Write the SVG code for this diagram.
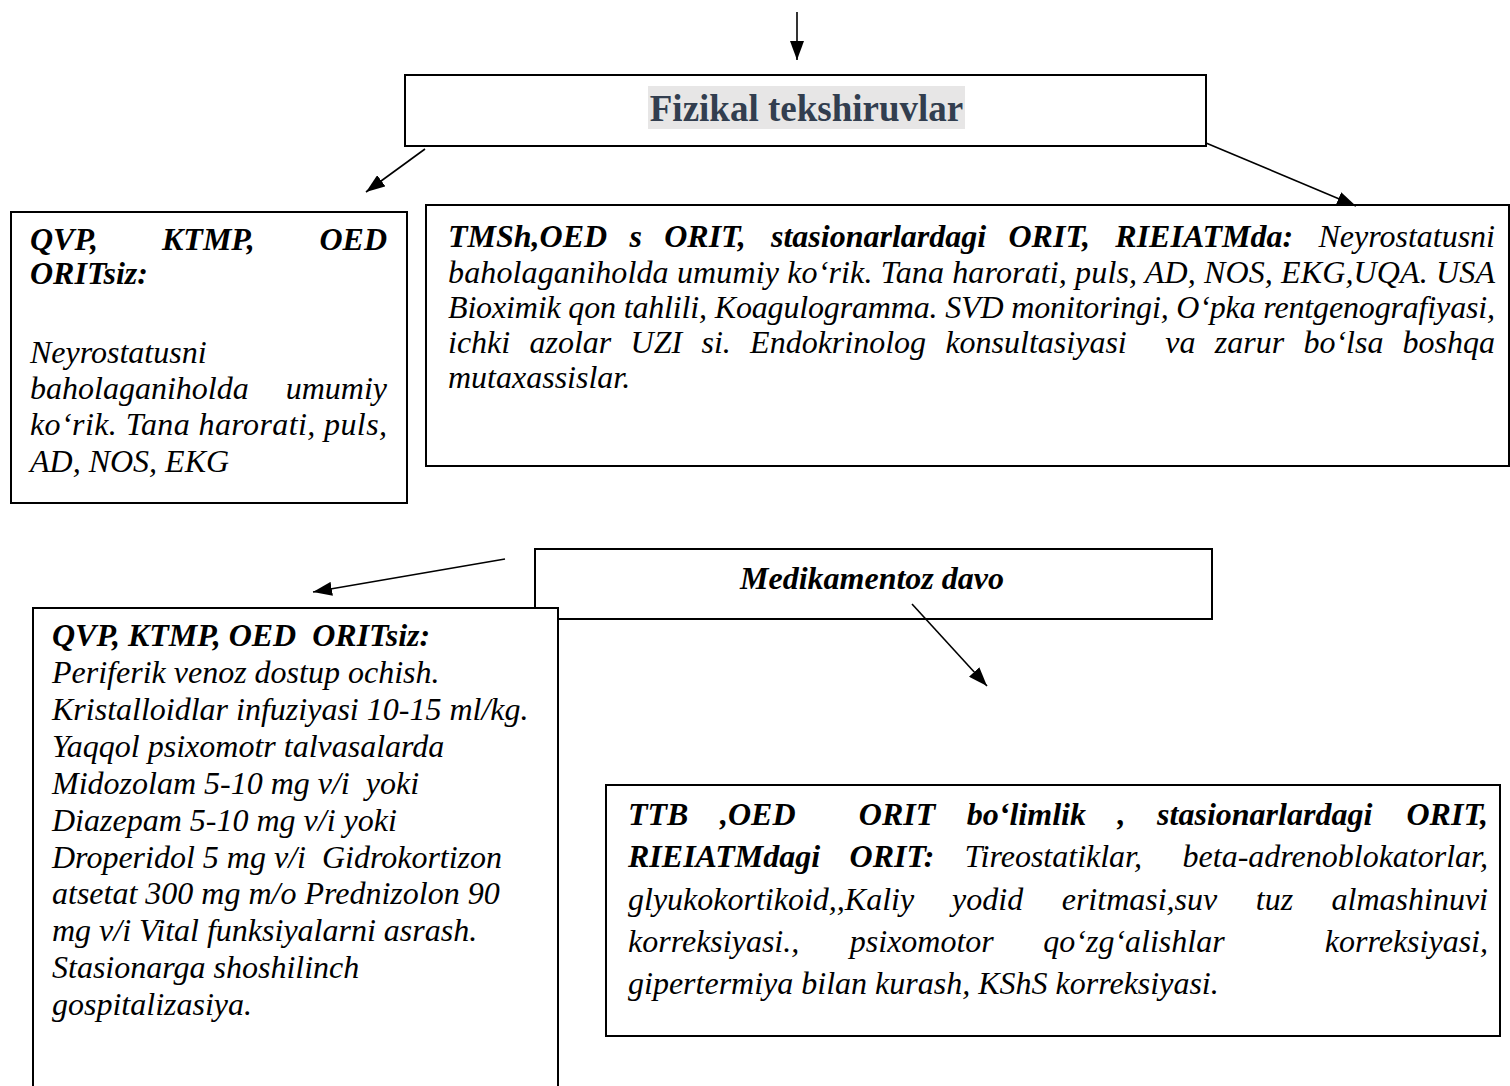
<svg xmlns="http://www.w3.org/2000/svg" width="1510" height="1086" viewBox="0 0 1510 1086">
<style>
.box{fill:#fff;stroke:#000;stroke-width:2}
.t{font-family:"Liberation Serif","Times New Roman",serif;font-size:32px;font-style:italic;fill:#000}
.b{font-weight:bold}
.ttl{font-family:"Liberation Serif","Times New Roman",serif;font-size:37px;font-weight:bold;fill:#323E4F}
.c{fill:none;stroke:#000;stroke-width:1.6}
</style>
<defs>
<marker id="ah" markerUnits="userSpaceOnUse" markerWidth="20" markerHeight="14" refX="19" refY="7" orient="auto">
<path d="M0,0 L19,7 L0,14 z" fill="#000"/>
</marker>
</defs>
<rect width="1510" height="1086" fill="#fff"/>

<g id="node-fizikal">
<rect class="box" x="405" y="75" width="801" height="71" stroke-width="2.5"/>
<rect x="648" y="86" width="317" height="43" fill="#E7E6E6"/>
<text class="ttl" x="806.5" y="121" text-anchor="middle">Fizikal tekshiruvlar</text>
</g>

<g id="node-qvp-fiz">
<rect class="box" x="11" y="212" width="396" height="291"/>
<text class="t b" y="250"><tspan x="30">QVP,</tspan><tspan x="162">KTMP,</tspan></text>
<text class="t b" x="387" y="250" text-anchor="end">OED</text>
<text class="t b" x="30" y="284">ORITsiz:</text>
<text class="t" x="30" y="363">Neyrostatusni</text>
<text class="t" x="30" y="399">baholaganiholda</text>
<text class="t" x="387" y="399" text-anchor="end">umumiy</text>
<text class="t" x="30" y="435" textLength="357" lengthAdjust="spacing">ko‘rik. Tana harorati, puls,</text>
<text class="t" x="30" y="472">AD, NOS, EKG</text>
</g>

<g id="node-tmsh-fiz">
<rect class="box" x="426" y="205" width="1083" height="261"/>
<text class="t b" y="247"><tspan x="448">TMSh,OED</tspan><tspan x="629.5">s</tspan><tspan x="664.2">ORIT,</tspan><tspan x="771">stasionarlardagi</tspan><tspan x="1008.5">ORIT,</tspan><tspan x="1115.3">RIEIATMda:</tspan></text>
<text class="t" x="1495" y="247" text-anchor="end">Neyrostatusni</text>
<text class="t" x="448" y="282.5" textLength="1047" lengthAdjust="spacing">baholaganiholda umumiy ko‘rik. Tana harorati, puls, AD, NOS, EKG,UQA. USA</text>
<text class="t" x="448" y="318" textLength="1047" lengthAdjust="spacing">Bioximik qon tahlili, Koagulogramma. SVD monitoringi, O‘pka rentgenografiyasi,</text>
<text class="t" y="353"><tspan x="448">ichki</tspan><tspan x="529.5">azolar</tspan><tspan x="630.6">UZI</tspan><tspan x="701.5">si.</tspan><tspan x="750.1">Endokrinolog</tspan><tspan x="945.4">konsultasiyasi</tspan><tspan x="1165.3">va</tspan><tspan x="1214.8">zarur</tspan><tspan x="1303.4">bo‘lsa</tspan></text>
<text class="t" x="1495" y="353" text-anchor="end">boshqa</text>
<text class="t" x="448" y="388">mutaxassislar.</text>
</g>

<g id="node-medikamentoz">
<rect class="box" x="535" y="549" width="677" height="70"/>
<text class="t b" x="872" y="589" text-anchor="middle">Medikamentoz davo</text>
</g>

<g id="node-qvp-davo">
<rect class="box" x="33" y="608" width="525" height="500"/>
<text class="t b" x="52" y="646">QVP, KTMP, OED&#160; ORITsiz:</text>
<text class="t" x="52" y="683">Periferik venoz dostup ochish.</text>
<text class="t" x="52" y="720">Kristalloidlar infuziyasi 10-15 ml/kg.</text>
<text class="t" x="52" y="757">Yaqqol psixomotr talvasalarda</text>
<text class="t" x="52" y="794">Midozolam 5-10 mg v/i&#160; yoki</text>
<text class="t" x="52" y="831">Diazepam 5-10 mg v/i yoki</text>
<text class="t" x="52" y="868">Droperidol 5 mg v/i&#160; Gidrokortizon</text>
<text class="t" x="52" y="904">atsetat 300 mg m/o Prednizolon 90</text>
<text class="t" x="52" y="941">mg v/i Vital funksiyalarni asrash.</text>
<text class="t" x="52" y="978">Stasionarga shoshilinch</text>
<text class="t" x="52" y="1015">gospitalizasiya.</text>
</g>

<g id="node-ttb-davo">
<rect class="box" x="606" y="785" width="894" height="251"/>
<text class="t b" y="825"><tspan x="628">TTB</tspan><tspan x="720">,OED</tspan><tspan x="858.8">ORIT</tspan><tspan x="966.8">bo‘limlik</tspan><tspan x="1117.5">,</tspan><tspan x="1157.1">stasionarlardagi</tspan></text>
<text class="t b" x="1488" y="825" text-anchor="end">ORIT,</text>
<text class="t b" y="867"><tspan x="628">RIEIATMdagi</tspan><tspan x="849.6">ORIT:</tspan></text>
<text class="t" x="964.5" y="867">Tireostatiklar,</text>
<text class="t" x="1488" y="867" text-anchor="end">beta-adrenoblokatorlar,</text>
<text class="t" y="910"><tspan x="628">glyukokortikoid,,Kaliy</tspan><tspan x="952.1">yodid</tspan><tspan x="1061.7">eritmasi,suv</tspan><tspan x="1255.8">tuz</tspan></text>
<text class="t" x="1488" y="910" text-anchor="end">almashinuvi</text>
<text class="t" y="952"><tspan x="628">korreksiyasi.,</tspan><tspan x="849.8">psixomotor</tspan><tspan x="1043.3">qo‘zg‘alishlar</tspan></text>
<text class="t" x="1488" y="952" text-anchor="end">korreksiyasi,</text>
<text class="t" x="628" y="994">gipertermiya bilan kurash, KShS korreksiyasi.</text>
</g>

<g id="connectors">
<line class="c" x1="797" y1="12" x2="797" y2="60" marker-end="url(#ah)"/>
<line class="c" x1="425" y1="149" x2="366" y2="192" marker-end="url(#ah)"/>
<line class="c" x1="1206" y1="143" x2="1356" y2="206" marker-end="url(#ah)"/>
<line class="c" x1="505" y1="559" x2="313" y2="592" marker-end="url(#ah)"/>
<line class="c" x1="912" y1="604" x2="987" y2="686" marker-end="url(#ah)"/>
</g>
</svg>
